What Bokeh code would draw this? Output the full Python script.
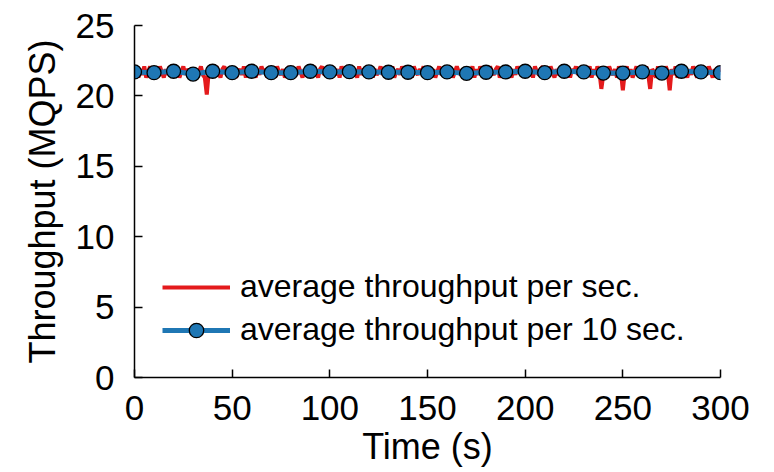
from bokeh.plotting import figure
from bokeh.models import Range1d, FixedTicker, Legend, LegendItem
from bokeh.embed import file_html
from bokeh.resources import INLINE

# per-second throughput samples (MQPS), t = 0..300 s
per_sec = [
    21.7, 22.1, 21.3, 21.9, 21.5, 22.1, 21.3, 21.7, 22.1, 21.5,
    21.3, 21.9, 21.5, 22.1, 21.7, 21.3, 21.9, 21.5, 22.1, 21.7,
    22.1, 21.5, 21.9, 21.3, 21.7, 22.1, 21.5, 21.9, 21.7, 21.3,
    21.5, 21.9, 21.3, 21.7, 22.1, 21.5, 21.3, 20.1, 21.7, 22.1,
    21.9, 21.5, 22.1, 21.7, 21.3, 21.9, 22.1, 21.5, 21.7, 21.9,
    21.5, 22.1, 21.3, 21.7, 21.9, 21.5, 22.1, 21.3, 21.9, 21.7,
    22.1, 21.7, 21.3, 21.9, 21.5, 22.1, 21.7, 21.9, 21.3, 21.7,
    21.5, 21.9, 21.3, 22.1, 21.7, 21.5, 21.9, 21.3, 21.7, 22.1,
    21.7, 21.3, 21.9, 21.5, 22.1, 21.7, 21.3, 21.9, 21.5, 22.1,
    21.9, 21.5, 22.1, 21.7, 21.3, 21.9, 22.1, 21.5, 21.7, 21.9,
    21.3, 22.1, 21.7, 21.5, 21.9, 21.3, 22.1, 21.7, 21.5, 21.9,
    22.1, 21.5, 21.9, 21.7, 21.3, 22.1, 21.5, 21.9, 21.7, 21.5,
    21.7, 22.1, 21.3, 21.9, 21.5, 21.7, 22.1, 21.5, 21.9, 21.3,
    21.9, 21.5, 22.1, 21.3, 21.7, 21.9, 21.5, 22.1, 21.7, 21.5,
    21.5, 21.9, 21.3, 22.1, 21.7, 21.5, 21.9, 21.7, 22.1, 21.3,
    21.7, 22.1, 21.5, 21.9, 21.3, 21.7, 22.1, 21.5, 21.9, 21.7,
    22.1, 21.5, 21.9, 21.3, 21.7, 22.1, 21.7, 21.5, 21.9, 21.3,
    21.5, 21.9, 21.7, 22.1, 21.3, 21.9, 21.5, 22.1, 21.7, 21.5,
    21.9, 21.3, 22.1, 21.7, 21.5, 21.9, 22.1, 21.3, 21.7, 21.9,
    21.5, 22.1, 21.7, 21.3, 21.9, 21.5, 22.1, 21.7, 21.9, 21.5,
    22.1, 21.7, 21.5, 21.9, 21.3, 22.1, 21.7, 21.5, 21.9, 22.1,
    21.3, 21.9, 21.5, 22.1, 21.7, 21.3, 21.9, 21.5, 21.7, 22.1,
    21.7, 21.5, 22.1, 21.3, 21.9, 21.7, 22.1, 21.5, 21.9, 21.3,
    21.9, 21.5, 21.7, 22.1, 21.3, 21.9, 21.5, 22.1, 21.7, 20.5,
    21.5, 21.9, 21.3, 22.1, 21.7, 21.5, 21.9, 21.3, 22.1, 21.7,
    20.4, 21.7, 22.1, 21.5, 21.9, 21.3, 21.7, 22.1, 21.5, 21.9,
    21.7, 21.3, 22.1, 21.5, 20.5, 21.9, 21.7, 21.3, 22.1, 21.5,
    21.9, 21.5, 22.1, 21.7, 20.4, 21.9, 21.5, 22.1, 21.3, 21.7,
    21.5, 22.1, 21.7, 21.3, 21.9, 21.5, 22.1, 21.7, 21.3, 21.9,
    21.7, 21.3, 21.9, 21.5, 22.1, 21.7, 21.3, 21.9, 21.5, 22.1,
    21.7,
]
sec_times = list(range(len(per_sec)))

# 10-second averages (MQPS), t = 0, 10, ..., 300 s
per_10s = [
    21.70, 21.65, 21.75, 21.55, 21.75, 21.65, 21.75, 21.65, 21.65, 21.75,
    21.70, 21.72, 21.70, 21.68, 21.68, 21.65, 21.70, 21.60, 21.68, 21.70,
    21.75, 21.65, 21.75, 21.70, 21.62, 21.62, 21.70, 21.62, 21.75, 21.70,
    21.65,
]
ten_times = [10 * i for i in range(len(per_10s))]

x_ticks = [0, 50, 100, 150, 200, 250, 300]
y_ticks = [0, 5, 10, 15, 20, 25]

FONT = "Liberation Sans"
RED = "#e41a1c"
BLUE = "#1f77b4"

p = figure(width=774, height=472, output_backend="svg", toolbar_location=None,
           x_range=Range1d(0, 300), y_range=Range1d(0, 25),
           min_border_left=134, min_border_right=54,
           min_border_top=25, min_border_bottom=95)
p.outline_line_color = None
p.xgrid.visible = False
p.ygrid.visible = False
p.background_fill_color = "white"
p.border_fill_color = "white"

r_sec = p.line(sec_times, per_sec, line_color=RED, line_width=4)
r_10l = p.line(ten_times, per_10s, line_color=BLUE, line_width=5)
r_10m = p.scatter(ten_times, per_10s, marker="circle", size=14,
                  fill_color=BLUE, line_color="black", line_width=1.3)

for ax in (p.xaxis[0], p.yaxis[0]):
    ax.axis_line_color = "black"
    ax.axis_line_width = 1.5
    ax.major_tick_line_color = "black"
    ax.major_tick_line_width = 1.5
    ax.major_tick_in = 8
    ax.major_tick_out = 0
    ax.minor_tick_line_color = None
    ax.major_label_text_font = FONT
    ax.major_label_text_font_size = "35px"
    ax.major_label_text_color = "black"
    ax.axis_label_text_font = FONT
    ax.axis_label_text_font_size = "36px"
    ax.axis_label_text_font_style = "normal"
    ax.axis_label_text_color = "black"

p.xaxis.ticker = FixedTicker(ticks=x_ticks)
p.yaxis.ticker = FixedTicker(ticks=y_ticks)
p.xaxis.axis_label = "Time (s)"
p.yaxis.axis_label = "Throughput (MQPS)"
p.xaxis.major_label_standoff = 18
p.yaxis.major_label_standoff = 20
p.xaxis.axis_label_standoff = 3
p.yaxis.axis_label_standoff = 10

legend = Legend(items=[
    LegendItem(label="average throughput per sec.", renderers=[r_sec]),
    LegendItem(label="average throughput per 10 sec.", renderers=[r_10l, r_10m]),
], location=(28, 29))
legend.label_text_font = FONT
legend.label_text_font_size = "32px"
legend.label_text_color = "black"
legend.glyph_width = 68
legend.glyph_height = 36
legend.label_height = 36
legend.label_standoff = 10
legend.spacing = 6
legend.padding = 0
legend.margin = 0
legend.border_line_color = None
legend.background_fill_alpha = 0
p.add_layout(legend)

open("out.html", "w").write(file_html(p, INLINE))
